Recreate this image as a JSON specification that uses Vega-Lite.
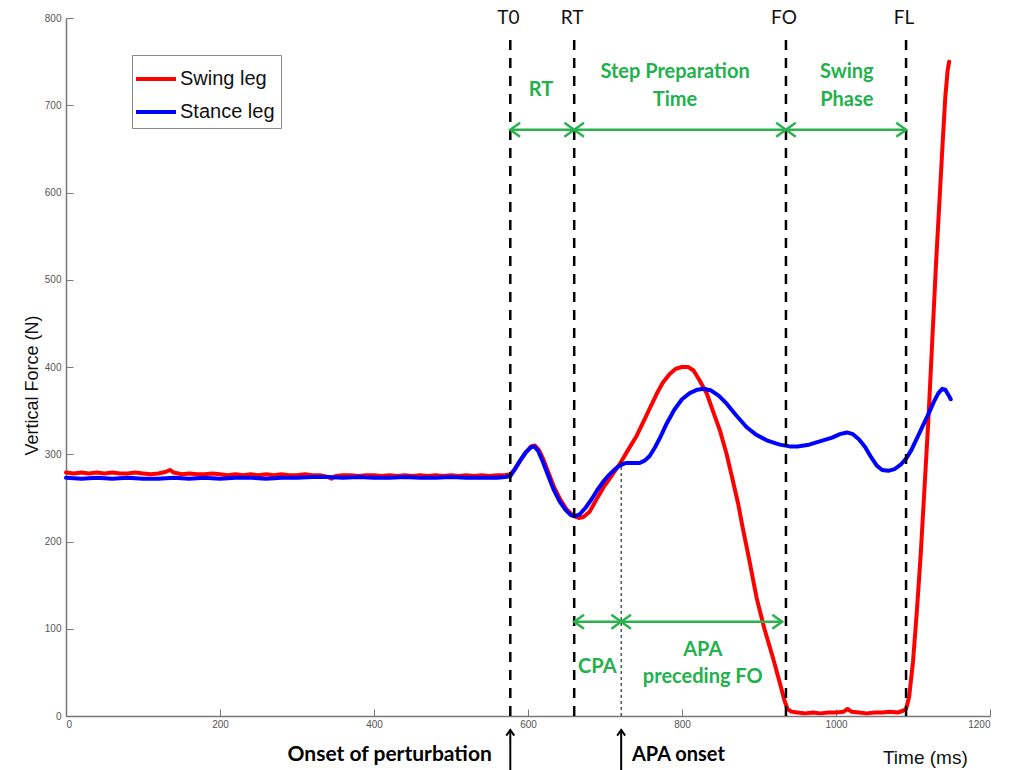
{
  "$schema": "https://vega.github.io/schema/vega-lite/v6.json",
  "autosize": {"type": "none"},
  "width": 924,
  "height": 698,
  "padding": {"left": 66, "top": 18, "right": 25, "bottom": 54},
  "background": "white",
  "config": {
    "view": {"stroke": null},
    "font": "Liberation Sans"
  },
  "datasets": {
    "curves": [
      {"leg": "Swing leg", "t": 0, "f": 279}, {"leg": "Swing leg", "t": 10, "f": 278}, {"leg": "Swing leg", "t": 20, "f": 279}, {"leg": "Swing leg", "t": 30, "f": 278}, {"leg": "Swing leg", "t": 40, "f": 279}, {"leg": "Swing leg", "t": 50, "f": 278}, {"leg": "Swing leg", "t": 60, "f": 279}, {"leg": "Swing leg", "t": 70, "f": 278}, {"leg": "Swing leg", "t": 80, "f": 278}, {"leg": "Swing leg", "t": 90, "f": 279}, {"leg": "Swing leg", "t": 100, "f": 278}, {"leg": "Swing leg", "t": 110, "f": 277}, {"leg": "Swing leg", "t": 120, "f": 278}, {"leg": "Swing leg", "t": 130, "f": 280}, {"leg": "Swing leg", "t": 135, "f": 282}, {"leg": "Swing leg", "t": 140, "f": 279}, {"leg": "Swing leg", "t": 150, "f": 277}, {"leg": "Swing leg", "t": 160, "f": 278}, {"leg": "Swing leg", "t": 170, "f": 277}, {"leg": "Swing leg", "t": 180, "f": 277}, {"leg": "Swing leg", "t": 190, "f": 278}, {"leg": "Swing leg", "t": 200, "f": 277}, {"leg": "Swing leg", "t": 210, "f": 276}, {"leg": "Swing leg", "t": 220, "f": 277}, {"leg": "Swing leg", "t": 230, "f": 276}, {"leg": "Swing leg", "t": 240, "f": 277}, {"leg": "Swing leg", "t": 250, "f": 276}, {"leg": "Swing leg", "t": 260, "f": 277}, {"leg": "Swing leg", "t": 270, "f": 276}, {"leg": "Swing leg", "t": 280, "f": 277}, {"leg": "Swing leg", "t": 290, "f": 276}, {"leg": "Swing leg", "t": 300, "f": 276}, {"leg": "Swing leg", "t": 310, "f": 277}, {"leg": "Swing leg", "t": 320, "f": 276}, {"leg": "Swing leg", "t": 330, "f": 276}, {"leg": "Swing leg", "t": 340, "f": 274}, {"leg": "Swing leg", "t": 345, "f": 272}, {"leg": "Swing leg", "t": 350, "f": 275}, {"leg": "Swing leg", "t": 360, "f": 276}, {"leg": "Swing leg", "t": 370, "f": 276}, {"leg": "Swing leg", "t": 380, "f": 275}, {"leg": "Swing leg", "t": 390, "f": 276}, {"leg": "Swing leg", "t": 400, "f": 276}, {"leg": "Swing leg", "t": 410, "f": 275}, {"leg": "Swing leg", "t": 420, "f": 276}, {"leg": "Swing leg", "t": 430, "f": 275}, {"leg": "Swing leg", "t": 440, "f": 276}, {"leg": "Swing leg", "t": 450, "f": 275}, {"leg": "Swing leg", "t": 460, "f": 276}, {"leg": "Swing leg", "t": 470, "f": 275}, {"leg": "Swing leg", "t": 480, "f": 276}, {"leg": "Swing leg", "t": 490, "f": 275}, {"leg": "Swing leg", "t": 500, "f": 276}, {"leg": "Swing leg", "t": 510, "f": 275}, {"leg": "Swing leg", "t": 520, "f": 276}, {"leg": "Swing leg", "t": 530, "f": 275}, {"leg": "Swing leg", "t": 540, "f": 276}, {"leg": "Swing leg", "t": 550, "f": 275}, {"leg": "Swing leg", "t": 560, "f": 276}, {"leg": "Swing leg", "t": 570, "f": 276},
      {"leg": "Swing leg", "t": 577, "f": 277}, {"leg": "Swing leg", "t": 583, "f": 283}, {"leg": "Swing leg", "t": 590, "f": 293}, {"leg": "Swing leg", "t": 597, "f": 302}, {"leg": "Swing leg", "t": 604, "f": 309}, {"leg": "Swing leg", "t": 609, "f": 310}, {"leg": "Swing leg", "t": 614, "f": 305}, {"leg": "Swing leg", "t": 620, "f": 294}, {"leg": "Swing leg", "t": 627, "f": 278}, {"leg": "Swing leg", "t": 634, "f": 262}, {"leg": "Swing leg", "t": 642, "f": 248}, {"leg": "Swing leg", "t": 650, "f": 237}, {"leg": "Swing leg", "t": 658, "f": 230}, {"leg": "Swing leg", "t": 666, "f": 227}, {"leg": "Swing leg", "t": 672, "f": 228}, {"leg": "Swing leg", "t": 680, "f": 234}, {"leg": "Swing leg", "t": 690, "f": 250}, {"leg": "Swing leg", "t": 698, "f": 262}, {"leg": "Swing leg", "t": 706, "f": 272}, {"leg": "Swing leg", "t": 713, "f": 281}, {"leg": "Swing leg", "t": 720, "f": 290}, {"leg": "Swing leg", "t": 730, "f": 305}, {"leg": "Swing leg", "t": 741, "f": 321}, {"leg": "Swing leg", "t": 752, "f": 341}, {"leg": "Swing leg", "t": 760, "f": 356}, {"leg": "Swing leg", "t": 767, "f": 369}, {"leg": "Swing leg", "t": 775, "f": 382}, {"leg": "Swing leg", "t": 784, "f": 392}, {"leg": "Swing leg", "t": 792, "f": 398}, {"leg": "Swing leg", "t": 800, "f": 400}, {"leg": "Swing leg", "t": 808, "f": 400}, {"leg": "Swing leg", "t": 815, "f": 396}, {"leg": "Swing leg", "t": 822, "f": 386}, {"leg": "Swing leg", "t": 832, "f": 370}, {"leg": "Swing leg", "t": 840, "f": 350}, {"leg": "Swing leg", "t": 849, "f": 328}, {"leg": "Swing leg", "t": 858, "f": 300}, {"leg": "Swing leg", "t": 866, "f": 270}, {"leg": "Swing leg", "t": 873, "f": 243}, {"leg": "Swing leg", "t": 879, "f": 215}, {"leg": "Swing leg", "t": 886, "f": 185}, {"leg": "Swing leg", "t": 897, "f": 135}, {"leg": "Swing leg", "t": 907, "f": 100}, {"leg": "Swing leg", "t": 918, "f": 67}, {"leg": "Swing leg", "t": 927, "f": 38}, {"leg": "Swing leg", "t": 933, "f": 18}, {"leg": "Swing leg", "t": 937, "f": 8}, {"leg": "Swing leg", "t": 942, "f": 5}, {"leg": "Swing leg", "t": 950, "f": 4}, {"leg": "Swing leg", "t": 960, "f": 3}, {"leg": "Swing leg", "t": 970, "f": 4}, {"leg": "Swing leg", "t": 980, "f": 3}, {"leg": "Swing leg", "t": 990, "f": 4}, {"leg": "Swing leg", "t": 1000, "f": 4}, {"leg": "Swing leg", "t": 1010, "f": 5}, {"leg": "Swing leg", "t": 1015, "f": 8}, {"leg": "Swing leg", "t": 1020, "f": 5}, {"leg": "Swing leg", "t": 1030, "f": 4}, {"leg": "Swing leg", "t": 1040, "f": 3}, {"leg": "Swing leg", "t": 1050, "f": 4}, {"leg": "Swing leg", "t": 1060, "f": 4}, {"leg": "Swing leg", "t": 1070, "f": 5}, {"leg": "Swing leg", "t": 1080, "f": 4}, {"leg": "Swing leg", "t": 1087, "f": 6}, {"leg": "Swing leg", "t": 1091, "f": 8}, {"leg": "Swing leg", "t": 1095, "f": 22}, {"leg": "Swing leg", "t": 1100, "f": 62}, {"leg": "Swing leg", "t": 1105, "f": 120}, {"leg": "Swing leg", "t": 1110, "f": 185}, {"leg": "Swing leg", "t": 1115, "f": 262}, {"leg": "Swing leg", "t": 1120, "f": 340}, {"leg": "Swing leg", "t": 1125, "f": 430}, {"leg": "Swing leg", "t": 1130, "f": 520}, {"leg": "Swing leg", "t": 1135, "f": 600}, {"leg": "Swing leg", "t": 1139, "f": 665}, {"leg": "Swing leg", "t": 1142, "f": 710}, {"leg": "Swing leg", "t": 1145, "f": 740}, {"leg": "Swing leg", "t": 1147, "f": 750},
      {"leg": "Stance leg", "t": 0, "f": 273}, {"leg": "Stance leg", "t": 20, "f": 272}, {"leg": "Stance leg", "t": 40, "f": 273}, {"leg": "Stance leg", "t": 60, "f": 272}, {"leg": "Stance leg", "t": 80, "f": 273}, {"leg": "Stance leg", "t": 100, "f": 272}, {"leg": "Stance leg", "t": 120, "f": 272}, {"leg": "Stance leg", "t": 140, "f": 273}, {"leg": "Stance leg", "t": 160, "f": 272}, {"leg": "Stance leg", "t": 180, "f": 273}, {"leg": "Stance leg", "t": 200, "f": 272}, {"leg": "Stance leg", "t": 220, "f": 273}, {"leg": "Stance leg", "t": 240, "f": 273}, {"leg": "Stance leg", "t": 260, "f": 272}, {"leg": "Stance leg", "t": 280, "f": 273}, {"leg": "Stance leg", "t": 300, "f": 273}, {"leg": "Stance leg", "t": 320, "f": 274}, {"leg": "Stance leg", "t": 340, "f": 274}, {"leg": "Stance leg", "t": 360, "f": 273}, {"leg": "Stance leg", "t": 380, "f": 274}, {"leg": "Stance leg", "t": 400, "f": 273}, {"leg": "Stance leg", "t": 420, "f": 273}, {"leg": "Stance leg", "t": 440, "f": 274}, {"leg": "Stance leg", "t": 460, "f": 273}, {"leg": "Stance leg", "t": 480, "f": 273}, {"leg": "Stance leg", "t": 500, "f": 274}, {"leg": "Stance leg", "t": 520, "f": 273}, {"leg": "Stance leg", "t": 540, "f": 273}, {"leg": "Stance leg", "t": 560, "f": 273}, {"leg": "Stance leg", "t": 570, "f": 274},
      {"leg": "Stance leg", "t": 577, "f": 275}, {"leg": "Stance leg", "t": 583, "f": 283}, {"leg": "Stance leg", "t": 590, "f": 293}, {"leg": "Stance leg", "t": 597, "f": 302}, {"leg": "Stance leg", "t": 604, "f": 308}, {"leg": "Stance leg", "t": 608, "f": 309}, {"leg": "Stance leg", "t": 613, "f": 304}, {"leg": "Stance leg", "t": 619, "f": 292}, {"leg": "Stance leg", "t": 626, "f": 276}, {"leg": "Stance leg", "t": 633, "f": 260}, {"leg": "Stance leg", "t": 641, "f": 246}, {"leg": "Stance leg", "t": 649, "f": 236}, {"leg": "Stance leg", "t": 656, "f": 230}, {"leg": "Stance leg", "t": 661, "f": 229}, {"leg": "Stance leg", "t": 667, "f": 231}, {"leg": "Stance leg", "t": 675, "f": 239}, {"leg": "Stance leg", "t": 683, "f": 249}, {"leg": "Stance leg", "t": 690, "f": 259}, {"leg": "Stance leg", "t": 698, "f": 269}, {"leg": "Stance leg", "t": 706, "f": 277}, {"leg": "Stance leg", "t": 713, "f": 283}, {"leg": "Stance leg", "t": 719, "f": 287}, {"leg": "Stance leg", "t": 727, "f": 290}, {"leg": "Stance leg", "t": 735, "f": 290}, {"leg": "Stance leg", "t": 745, "f": 290}, {"leg": "Stance leg", "t": 752, "f": 293}, {"leg": "Stance leg", "t": 758, "f": 298}, {"leg": "Stance leg", "t": 765, "f": 308}, {"leg": "Stance leg", "t": 772, "f": 320}, {"leg": "Stance leg", "t": 780, "f": 335}, {"leg": "Stance leg", "t": 790, "f": 351}, {"leg": "Stance leg", "t": 800, "f": 363}, {"leg": "Stance leg", "t": 810, "f": 370}, {"leg": "Stance leg", "t": 820, "f": 374}, {"leg": "Stance leg", "t": 828, "f": 375}, {"leg": "Stance leg", "t": 838, "f": 373}, {"leg": "Stance leg", "t": 848, "f": 367}, {"leg": "Stance leg", "t": 858, "f": 358}, {"leg": "Stance leg", "t": 870, "f": 345}, {"leg": "Stance leg", "t": 884, "f": 331}, {"leg": "Stance leg", "t": 897, "f": 322}, {"leg": "Stance leg", "t": 910, "f": 316}, {"leg": "Stance leg", "t": 927, "f": 311}, {"leg": "Stance leg", "t": 940, "f": 309}, {"leg": "Stance leg", "t": 950, "f": 309}, {"leg": "Stance leg", "t": 965, "f": 311}, {"leg": "Stance leg", "t": 980, "f": 315}, {"leg": "Stance leg", "t": 995, "f": 319}, {"leg": "Stance leg", "t": 1005, "f": 323}, {"leg": "Stance leg", "t": 1014, "f": 325}, {"leg": "Stance leg", "t": 1022, "f": 323}, {"leg": "Stance leg", "t": 1030, "f": 317}, {"leg": "Stance leg", "t": 1038, "f": 308}, {"leg": "Stance leg", "t": 1046, "f": 296}, {"leg": "Stance leg", "t": 1053, "f": 287}, {"leg": "Stance leg", "t": 1060, "f": 282}, {"leg": "Stance leg", "t": 1068, "f": 281}, {"leg": "Stance leg", "t": 1076, "f": 283}, {"leg": "Stance leg", "t": 1084, "f": 288}, {"leg": "Stance leg", "t": 1091, "f": 295}, {"leg": "Stance leg", "t": 1098, "f": 305}, {"leg": "Stance leg", "t": 1106, "f": 320}, {"leg": "Stance leg", "t": 1113, "f": 333}, {"leg": "Stance leg", "t": 1120, "f": 346}, {"leg": "Stance leg", "t": 1127, "f": 360}, {"leg": "Stance leg", "t": 1133, "f": 370}, {"leg": "Stance leg", "t": 1138, "f": 375}, {"leg": "Stance leg", "t": 1142, "f": 374}, {"leg": "Stance leg", "t": 1146, "f": 368}, {"leg": "Stance leg", "t": 1149, "f": 363}
    ],
    "events": [
      {"t": 577, "name": "T0"}, {"t": 660, "name": "RT"}, {"t": 935, "name": "FO"}, {"t": 1091, "name": "FL"}
    ],
    "spans": [
      {"a": 577, "b": 660, "y": 672},
      {"a": 660, "b": 935, "y": 672},
      {"a": 935, "b": 1091, "y": 672},
      {"a": 660, "b": 721, "y": 108},
      {"a": 721, "b": 930, "y": 108}
    ],
    "greenText": [
      {"t": 617, "f": 718, "text": "RT"},
      {"t": 791, "f": 738, "text": "Step Preparation"},
      {"t": 791, "f": 706, "text": "Time"},
      {"t": 1014, "f": 738, "text": "Swing"},
      {"t": 1014, "f": 706, "text": "Phase"},
      {"t": 690, "f": 56, "text": "CPA"},
      {"t": 827, "f": 76, "text": "APA"},
      {"t": 827, "f": 45, "text": "preceding FO"}
    ],
    "marks": [
      {"t": 577, "lo": -62, "hi": -16},
      {"t": 721, "lo": -62, "hi": -16}
    ]
  },
  "layer": [
    {
      "data": {"name": "curves"},
      "transform": [{"filter": "datum.leg === 'Swing leg'"}],
      "mark": {"type": "line", "strokeWidth": 4, "strokeCap": "round", "strokeJoin": "round"},
      "encoding": {
        "x": {"field": "t", "type": "quantitative", "title": null, "scale": {"domain": [0, 1200], "nice": false, "zero": false},
          "axis": {"values": [0, 200, 400, 600, 800, 1000, 1200], "format": "d", "grid": false, "domainColor": "#777", "domainWidth": 1.5, "tickColor": "#777", "tickSize": -7, "tickWidth": 1, "labelPadding": 10, "labelFontSize": 10, "labelColor": "#555", "labelFont": "Liberation Sans"}},
        "y": {"field": "f", "type": "quantitative", "title": "Vertical Force (N)", "scale": {"domain": [0, 800], "nice": false, "zero": false},
          "axis": {"values": [0, 100, 200, 300, 400, 500, 600, 700, 800], "format": "d", "grid": false, "domainColor": "#777", "domainWidth": 1.5, "tickColor": "#777", "tickSize": -7, "tickWidth": 1, "labelPadding": 12, "labelFontSize": 10, "labelColor": "#555", "labelFont": "Liberation Sans", "titleFont": "Liberation Sans", "titleFontSize": 18, "titleFontWeight": "normal", "titleColor": "#111", "titleX": -34, "titleY": 367, "titleBaseline": "middle", "titleAlign": "center", "titleAngle": -90}},
        "color": {"field": "leg", "type": "nominal",
          "scale": {"domain": ["Swing leg", "Stance leg"], "range": ["#ff0000", "#0000ff"]},
          "legend": {"title": null, "orient": "none", "legendX": 66, "legendY": 37, "direction": "vertical",
            "fillColor": "white", "strokeColor": "#888", "padding": 6, "cornerRadius": 0,
            "symbolType": "M -1.25 0 L 1.25 0", "symbolSize": 1024, "symbolStrokeWidth": 4,
            "rowPadding": 5, "labelOffset": 6, "labelFont": "Liberation Sans", "labelFontSize": 20, "labelColor": "#111"}}
      }
    },
    {
      "data": {"name": "curves"},
      "transform": [{"filter": "datum.leg === 'Stance leg'"}],
      "mark": {"type": "line", "strokeWidth": 4, "strokeCap": "round", "strokeJoin": "round"},
      "encoding": {
        "x": {"field": "t", "type": "quantitative", "title": null},
        "y": {"field": "f", "type": "quantitative", "title": "Vertical Force (N)"},
        "color": {"field": "leg", "type": "nominal"}
      }
    },
    {
      "data": {"name": "events"},
      "mark": {"type": "rule", "color": "black", "strokeWidth": 2.5, "strokeDash": [10, 8]},
      "encoding": {
        "x": {"field": "t", "type": "quantitative", "title": null},
        "y": {"datum": 0, "title": "Vertical Force (N)"},
        "y2": {"datum": 775}
      }
    },
    {
      "data": {"values": [{"t": 721, "lo": 0, "hi": 295}]},
      "mark": {"type": "rule", "color": "black", "strokeWidth": 1, "strokeDash": [3, 3]},
      "encoding": {
        "x": {"field": "t", "type": "quantitative", "title": null},
        "y": {"field": "lo", "type": "quantitative", "title": "Vertical Force (N)"},
        "y2": {"field": "hi"}
      }
    },
    {
      "data": {"name": "events"},
      "mark": {"type": "text", "font": "Lato", "fontSize": 19, "color": "#111", "align": "center", "baseline": "middle", "dx": -2},
      "encoding": {
        "x": {"field": "t", "type": "quantitative", "title": null},
        "y": {"datum": 800, "title": "Vertical Force (N)"},
        "text": {"field": "name"}
      }
    },
    {
      "data": {"name": "spans"},
      "mark": {"type": "rule", "color": "#2bb24c", "strokeWidth": 2.5},
      "encoding": {
        "x": {"field": "a", "type": "quantitative", "title": null},
        "x2": {"field": "b"},
        "y": {"field": "y", "type": "quantitative", "title": "Vertical Force (N)"}
      }
    },
    {
      "data": {"name": "spans"},
      "mark": {"type": "point", "shape": "M 1.4 -1 L 0 0 L 1.4 1", "size": 196, "filled": false, "color": "#2bb24c", "strokeWidth": 2.5, "opacity": 1},
      "encoding": {
        "x": {"field": "a", "type": "quantitative", "title": null},
        "y": {"field": "y", "type": "quantitative", "title": "Vertical Force (N)"}
      }
    },
    {
      "data": {"name": "spans"},
      "mark": {"type": "point", "shape": "M -1.4 -1 L 0 0 L -1.4 1", "size": 196, "filled": false, "color": "#2bb24c", "strokeWidth": 2.5, "opacity": 1},
      "encoding": {
        "x": {"field": "b", "type": "quantitative", "title": null},
        "y": {"field": "y", "type": "quantitative", "title": "Vertical Force (N)"}
      }
    },
    {
      "data": {"name": "greenText"},
      "mark": {"type": "text", "font": "Lato", "fontWeight": "bold", "fontSize": 20, "color": "#22b14c", "align": "center", "baseline": "middle"},
      "encoding": {
        "x": {"field": "t", "type": "quantitative", "title": null},
        "y": {"field": "f", "type": "quantitative", "title": "Vertical Force (N)"},
        "text": {"field": "text"}
      }
    },
    {
      "data": {"name": "marks"},
      "mark": {"type": "rule", "color": "black", "strokeWidth": 2},
      "encoding": {
        "x": {"field": "t", "type": "quantitative", "title": null},
        "y": {"field": "lo", "type": "quantitative", "title": "Vertical Force (N)"},
        "y2": {"field": "hi"}
      }
    },
    {
      "data": {"name": "marks"},
      "mark": {"type": "point", "shape": "M -1 1.4 L 0 0 L 1 1.4", "size": 64, "filled": false, "color": "black", "strokeWidth": 2, "opacity": 1},
      "encoding": {
        "x": {"field": "t", "type": "quantitative", "title": null},
        "y": {"field": "hi", "type": "quantitative", "title": "Vertical Force (N)"}
      }
    },
    {
      "data": {"values": [{"t": 553, "f": -45, "text": "Onset of perturbation"}]},
      "mark": {"type": "text", "font": "Lato", "fontWeight": "bold", "fontSize": 21, "color": "black", "baseline": "middle", "align": "right"},
      "encoding": {
        "x": {"field": "t", "type": "quantitative", "title": null},
        "y": {"field": "f", "type": "quantitative", "title": "Vertical Force (N)"},
        "text": {"field": "text"}
      }
    },
    {
      "data": {"values": [{"t": 735, "f": -45, "text": "APA onset"}]},
      "mark": {"type": "text", "font": "Lato", "fontWeight": "bold", "fontSize": 20, "color": "black", "baseline": "middle", "align": "left"},
      "encoding": {
        "x": {"field": "t", "type": "quantitative", "title": null},
        "y": {"field": "f", "type": "quantitative", "title": "Vertical Force (N)"},
        "text": {"field": "text"}
      }
    },
    {
      "data": {"values": [{"t": 1116, "f": -48, "text": "Time (ms)"}]},
      "mark": {"type": "text", "font": "Liberation Sans", "fontSize": 19, "color": "#111", "align": "center", "baseline": "middle"},
      "encoding": {
        "x": {"field": "t", "type": "quantitative", "title": null},
        "y": {"field": "f", "type": "quantitative", "title": "Vertical Force (N)"},
        "text": {"field": "text"}
      }
    }
  ]
}
